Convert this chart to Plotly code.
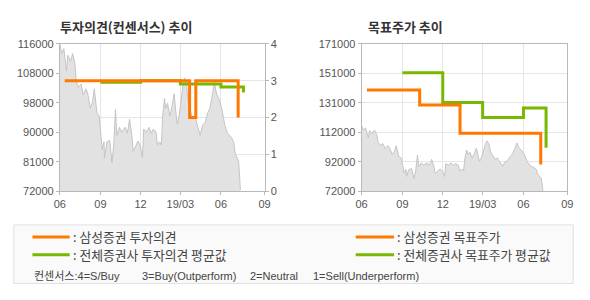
import plotly.graph_objects as go

# ---------------- data ----------------
price_dates = [
    "2018-06-01", "2018-06-05", "2018-06-10", "2018-06-16", "2018-06-19", "2018-06-25", "2018-06-30",
    "2018-07-05", "2018-07-08", "2018-07-13", "2018-07-19", "2018-07-24", "2018-07-30",
    "2018-08-03", "2018-08-09", "2018-08-14", "2018-08-18", "2018-08-24", "2018-08-29",
    "2018-09-02", "2018-09-05", "2018-09-09", "2018-09-10", "2018-09-16", "2018-09-22", "2018-09-27",
    "2018-10-01", "2018-10-05", "2018-10-08", "2018-10-14", "2018-10-19", "2018-10-27",
    "2018-11-01", "2018-11-06", "2018-11-11", "2018-11-14", "2018-11-20", "2018-11-25", "2018-11-30",
    "2018-12-05", "2018-12-08", "2018-12-14", "2018-12-20", "2018-12-25", "2018-12-30",
    "2019-01-05", "2019-01-08", "2019-01-13", "2019-01-17", "2019-01-20", "2019-01-24", "2019-01-27", "2019-01-31",
    "2019-02-05", "2019-02-10", "2019-02-15", "2019-02-19", "2019-02-22", "2019-02-26",
    "2019-03-02", "2019-03-07", "2019-03-11", "2019-03-15", "2019-03-19", "2019-03-24", "2019-03-29",
    "2019-04-03", "2019-04-08", "2019-04-15", "2019-04-20", "2019-04-26",
    "2019-05-02", "2019-05-07", "2019-05-13", "2019-05-17", "2019-05-22", "2019-05-27",
    "2019-06-02", "2019-06-06", "2019-06-10", "2019-06-16", "2019-06-21", "2019-06-26", "2019-06-30",
    "2019-07-03", "2019-07-08", "2019-07-11", "2019-07-13", "2019-07-15",
]
price_values = [
    116000, 113100, 114600, 107900, 112600, 110800, 113100,
    110200, 105000, 103000, 104000, 100800, 102600,
    101300, 96800, 98700, 102600, 95400, 94400,
    89600, 84400, 86800, 82000, 86800, 87200, 80500,
    85800, 96400, 88700, 91100, 89600, 91100,
    89300, 93500, 88700, 83900, 85800, 87000, 85800,
    82000, 90600, 89600, 91100, 89300, 90600,
    89600, 85800, 86800, 85800, 94400, 99700, 96800, 98300,
    94400, 97300, 101100, 95400, 92000, 94400,
    99200, 103500, 105900, 104000, 98300, 95400, 93500,
    94400, 92000, 88700, 91600, 92500,
    95400, 96800, 101100, 104500, 101100, 99700,
    97300, 94400, 91600, 89200, 88700, 87700, 86800,
    83400, 82000, 81000, 77200, 72400,
]

# 삼성증권 투자의견
sam_op_dates = ["2018-06-12", "2019-03-22", "2019-04-05", "2019-07-10"]
sam_op_values = [3, 2, 3, 2]
# 전체증권사 투자의견 평균값
all_op_dates = ["2018-09-01", "2018-12-01", "2019-03-01", "2019-06-01", "2019-07-22"]
all_op_values = [2.96, 3.0, 2.91, 2.83, 2.68]

# 삼성증권 목표주가
sam_tp_dates = ["2018-06-13", "2018-10-10", "2019-01-09", "2019-07-10"]
sam_tp_values = [140000, 130000, 111000, 90000]
# 전체증권사 목표주가 평균값
all_tp_dates = ["2018-09-01", "2018-12-01", "2019-03-01", "2019-06-01", "2019-07-22"]
all_tp_values = [151700, 131700, 121600, 127900, 101300]

x_tickvals = ["2018-06-01", "2018-09-01", "2018-12-01", "2019-03-01", "2019-06-01", "2019-09-08"]
x_ticktext = ["06", "09", "12", "19/03", "06", "09"]
x_range = ["2018-06-01", "2019-09-08"]

left_tickvals = [72000, 80800, 89600, 98400, 107200, 116000]
left_ticktext = ["72000", "81000", "90000", "98000", "108000", "116000"]
right_op_ticks = [0, 1, 2, 3, 4]
tp_tickvals = [72000, 91800, 111600, 131400, 151200, 171000]
tp_ticktext = ["72000", "92000", "112000", "131000", "151000", "171000"]

# ---------------- style ----------------
ORANGE = "#ff7800"
GREEN = "#78b800"
AREA_FILL = "#e2e2e2"
AREA_LINE = "#c4c4c4"
FRAME = "#b8b8b8"
GRID = "#e6e6e6"
FONT = "Liberation Sans, Noto Sans CJK KR, sans-serif"
KFONT = "Noto Sans CJK KR, sans-serif"
TICKFONT = dict(family=FONT, size=11, color="#555555")

W, H = 590, 300

fig = go.Figure()

# left chart
fig.add_trace(go.Scatter(x=price_dates, y=price_values, xaxis="x", yaxis="y", mode="lines",
                         line=dict(color=AREA_LINE, width=1), fill="tozeroy", fillcolor=AREA_FILL,
                         hoverinfo="skip", showlegend=False))
fig.add_trace(go.Scatter(x=all_op_dates, y=all_op_values, xaxis="x", yaxis="y2", mode="lines",
                         line=dict(color=GREEN, width=3, shape="hv"), showlegend=False))
fig.add_trace(go.Scatter(x=sam_op_dates, y=sam_op_values, xaxis="x", yaxis="y2", mode="lines",
                         line=dict(color=ORANGE, width=3, shape="hv"), showlegend=False))

# right chart
fig.add_trace(go.Scatter(x=price_dates, y=price_values, xaxis="x2", yaxis="y3", mode="lines",
                         line=dict(color=AREA_LINE, width=1), fill="tozeroy", fillcolor=AREA_FILL,
                         hoverinfo="skip", showlegend=False))
fig.add_trace(go.Scatter(x=all_tp_dates, y=all_tp_values, xaxis="x2", yaxis="y3", mode="lines",
                         line=dict(color=GREEN, width=3, shape="hv"), showlegend=False))
fig.add_trace(go.Scatter(x=sam_tp_dates, y=sam_tp_values, xaxis="x2", yaxis="y3", mode="lines",
                         line=dict(color=ORANGE, width=3, shape="hv"), showlegend=False))

ydom = [1 - 193 / H, 1 - 39.5 / H]

common_x = dict(type="date", range=x_range, tickmode="array", tickvals=x_tickvals, ticktext=x_ticktext,
                showgrid=True, gridcolor=GRID, gridwidth=1, showline=True, linecolor=FRAME, linewidth=1,
                mirror=True, ticks="outside", ticklen=3, tickcolor=FRAME, tickfont=TICKFONT, zeroline=False,
                fixedrange=True)

fig.update_layout(
    width=W, height=H, margin=dict(l=0, r=0, t=0, b=0),
    paper_bgcolor="white", plot_bgcolor="white",
    xaxis=dict(domain=[55 / W, 264 / W], anchor="y", **common_x),
    yaxis=dict(domain=ydom, anchor="x", range=[72000, 116000], tickmode="array",
               tickvals=left_tickvals, ticktext=left_ticktext, showgrid=False, zeroline=False,
               showline=True, linecolor=FRAME, mirror=True, ticks="outside", ticklen=3, tickcolor=FRAME,
               tickfont=TICKFONT),
    yaxis2=dict(overlaying="y", side="right", anchor="x", range=[0, 4], tickmode="array",
                tickvals=right_op_ticks, showgrid=True, gridcolor=GRID, zeroline=False, showline=False,
                ticks="outside", ticklen=3, tickcolor=FRAME, tickfont=TICKFONT),
    xaxis2=dict(domain=[363 / W, 573 / W], anchor="y3", **common_x),
    yaxis3=dict(domain=ydom, anchor="x2", range=[72000, 171000], tickmode="array",
                tickvals=tp_tickvals, ticktext=tp_ticktext, showgrid=True, gridcolor=GRID, zeroline=False,
                showline=True, linecolor=FRAME, mirror=True, ticks="outside", ticklen=3, tickcolor=FRAME,
                tickfont=TICKFONT),
)

def ann(text, px, py, size, bold=False, color="#444444", family=KFONT):
    t = f"<b>{text}</b>" if bold else text
    fig.add_annotation(text=t, x=px / W, y=1 - py / H, xref="paper", yref="paper",
                       xanchor="left", yanchor="middle", showarrow=False,
                       font=dict(family=family, size=size, color=color))

# titles
ann("투자의견(컨센서스) 추이", 53, 21, 13, bold=True, color="#333333")
ann("목표주가 추이", 367, 21, 13, bold=True, color="#333333")

# legend box
fig.add_shape(type="rect", xref="paper", yref="paper", x0=8 / W, x1=579 / W, y0=1 - 289 / H, y1=1 - 228 / H,
              fillcolor="#fafafa", line=dict(color="#e0e0e0", width=1), layer="below")
legend_items = [
    (27, 65, 240.5, ORANGE, ": 삼성증권 투자의견"),
    (27, 65, 259, GREEN, ": 전체증권사 투자의견 평균값"),
    (357, 396, 240.5, ORANGE, ": 삼성증권 목표주가"),
    (357, 396, 259, GREEN, ": 전체증권사 목표주가 평균값"),
]
for x0, x1, yy, col, label in legend_items:
    fig.add_shape(type="line", xref="paper", yref="paper", x0=x0 / W, x1=x1 / W, y0=1 - yy / H, y1=1 - yy / H,
                  line=dict(color=col, width=3))
    ann(label, x1 + 1, yy, 12.8, color="#444444")

for text, px in [("컨센서스:4=S/Buy", 27), ("3=Buy(Outperform)", 137), ("2=Neutral", 247),
                 ("1=Sell(Underperform)", 311)]:
    ann(text, px, 281.5, 11, color="#444444", family=FONT)

fig.write_html("out.html")
